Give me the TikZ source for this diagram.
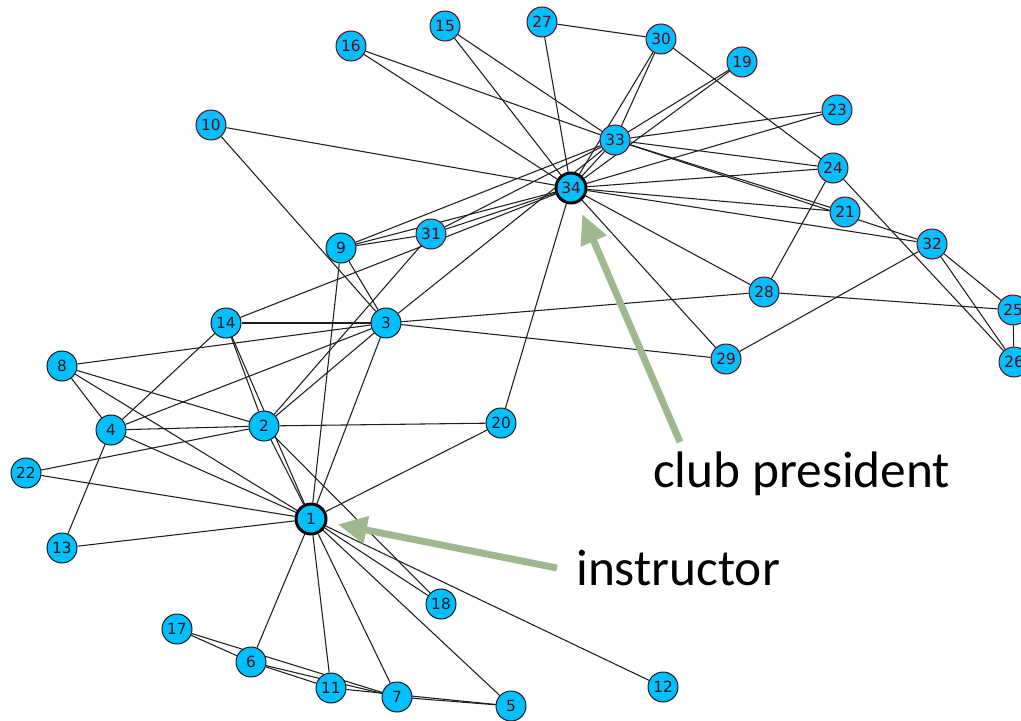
\documentclass[tikz,border=0pt]{standalone}
\usepackage{fontspec}
\setmainfont{Carlito}
\newfontfamily\numfont{DejaVu Sans}
\usetikzlibrary{arrows.meta,backgrounds}

\definecolor{nodefill}{RGB}{0,191,255}
\definecolor{redline}{RGB}{105,10,20}
\definecolor{darkline}{RGB}{25,25,25}
\definecolor{pointerc}{RGB}{160,184,144}

\tikzset{
  member/.style={circle, fill=nodefill, minimum size=22.5pt, inner sep=0pt,
    font=\numfont\fontsize{11.5}{11.5}\selectfont, line width=0.75pt},
  inst/.style={member, draw=darkline, text=darkline},
  pres/.style={member, draw=redline, text=redline},
  leader/.style={draw=black, line width=2.2pt},
  tie/.style={draw=black!88, line width=0.8pt},
  pointer/.style={draw=pointerc, line width=5.2pt, -{Triangle[length=22pt,width=20pt]}},
  caption/.style={font=\fontsize{38.5}{40}\selectfont, inner sep=0pt}
}

\begin{document}
\begin{tikzpicture}[x=0.75pt, y=-0.75pt]
  \useasboundingbox (0,0) rectangle (1021,721);

  % instructor's side
  \foreach \i/\x/\y in {2/264/426, 3/386/323, 4/111/430, 5/511/706, 6/251/662,
      7/397/697, 8/62/366, 9/341/248, 11/331/688, 12/663/687, 13/62/548,
      14/226/323, 17/177/629, 18/441/604, 20/501/423, 22/26/473}
    \node[inst] (n\i) at (\x,\y) {\i};
  \node[inst, leader] (n1) at (311,519) {1};

  % president's side
  \foreach \i/\x/\y in {10/211/125, 15/445/26, 16/351/46, 19/742/62, 21/845/212,
      23/837/110, 24/833/168, 25/1013/310, 26/1014/362, 27/542/22, 28/764/292,
      29/726/359, 30/661/39, 31/431/234, 32/932/244, 33/615/140}
    \node[pres] (n\i) at (\x,\y) {\i};
  \node[pres, leader] (n34) at (571,188) {34};

  % friendships
  \begin{pgfonlayer}{background}
    \foreach \a/\b in {1/2,1/3,1/4,1/5,1/6,1/7,1/8,1/9,1/11,1/12,1/13,1/14,1/18,
        1/20,1/22,2/3,2/4,2/8,2/14,2/18,2/20,2/22,2/31,3/4,3/8,3/9,3/10,3/14,
        3/28,3/29,3/33,4/8,4/13,4/14,5/7,5/11,6/7,6/11,6/17,7/17,9/31,9/33,9/34,
        10/34,14/34,15/33,15/34,16/33,16/34,19/33,19/34,20/34,21/33,21/34,23/33,
        23/34,24/26,24/28,24/30,24/33,24/34,25/26,25/28,25/32,26/32,27/30,27/34,
        28/34,29/32,29/34,30/33,30/34,31/33,31/34,32/33,32/34,33/34}
      \draw[tie] (n\a) -- (n\b);
  \end{pgfonlayer}

  % labels and pointers
  \node[caption, anchor=base west] (prestext) at (653,487) {club president};
  \node[caption, anchor=base west] (insttext) at (576,585) {instructor};
  \coordinate (prestail) at (680,442);
  \coordinate (insttail) at (557,568);
  \draw[pointer, shorten >=9pt] (prestail) -- (n34);
  \draw[pointer, shorten >=8pt] (insttail) -- (n1);
\end{tikzpicture}
\end{document}
